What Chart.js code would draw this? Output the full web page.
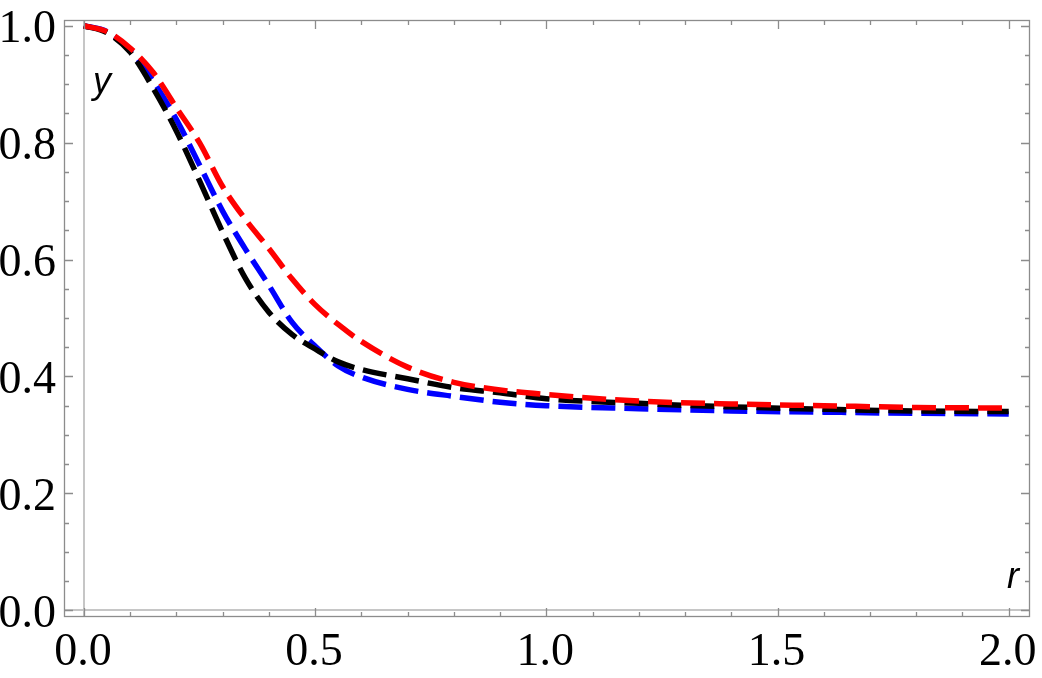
<!DOCTYPE html>
<html>
<head>
<meta charset="utf-8">
<script src="https://cdn.jsdelivr.net/npm/chart.js@4/dist/chart.umd.min.js"></script>
<style>
  html, body { margin: 0; padding: 0; background: #fff; overflow: hidden; }
  canvas { display: block; }
</style>
</head>
<body>
<canvas id="c" width="1042" height="678"></canvas>
<script>
// ---- data ----
const rValues = [0, 0.05, 0.1, 0.15, 0.2, 0.25, 0.3, 0.35, 0.4, 0.45, 0.5, 0.55, 0.6, 0.7, 0.8, 0.9, 1.0, 1.2, 1.4, 1.6, 1.8, 2.0];
const blackY  = [1.0, 0.988, 0.955, 0.893, 0.82, 0.735, 0.647, 0.567, 0.51, 0.472, 0.447, 0.425, 0.412, 0.396, 0.381, 0.372, 0.362, 0.354, 0.348, 0.344, 0.341, 0.340];
const blueY   = [1.0, 0.99, 0.958, 0.905, 0.84, 0.762, 0.683, 0.617, 0.556, 0.493, 0.452, 0.418, 0.399, 0.378, 0.366, 0.356, 0.350, 0.345, 0.341, 0.339, 0.337, 0.336];
const redY    = [1.0, 0.99, 0.962, 0.92, 0.86, 0.80, 0.725, 0.668, 0.619, 0.567, 0.523, 0.489, 0.46, 0.416, 0.39, 0.377, 0.369, 0.358, 0.353, 0.350, 0.347, 0.346];
const xTickLabels = [0, 0.5, 1.0, 1.5, 2.0];
const yTickLabels = [0, 0.2, 0.4, 0.6, 0.8, 1.0];
const xMinorStep = 0.1;
const yMinorStep = 0.05;
const xAxisLabel = 'r';
const yAxisLabel = 'y';

const toPts = ys => rValues.map((r, i) => ({ x: r, y: ys[i] }));

const FRAME = '#8c8c8c';
const TICK_FONT = '46px "Liberation Serif", "Times New Roman", serif';

const framePlugin = {
  id: 'mmaFrame',
  beforeDatasetsDraw(chart) {
    const { ctx, chartArea: a, scales: { x, y } } = chart;
    ctx.save();
    ctx.strokeStyle = '#c6c6c6';
    ctx.lineWidth = 2;
    ctx.beginPath();
    const x0 = Math.round(x.getPixelForValue(0));
    ctx.moveTo(x0, a.top); ctx.lineTo(x0, a.bottom);
    const y0 = Math.round(y.getPixelForValue(0));
    ctx.moveTo(a.left, y0); ctx.lineTo(a.right, y0);
    ctx.stroke();
    ctx.restore();
  },
  afterDatasetsDraw(chart) {
    const { ctx, chartArea: a, scales: { x, y } } = chart;
    ctx.save();
    ctx.strokeStyle = FRAME;
    ctx.lineWidth = 1.3;
    ctx.strokeRect(a.left + 0.5, a.top + 0.5, a.right - a.left - 1, a.bottom - a.top - 1);
    ctx.beginPath();
    const eps = 1e-9;
    for (let i = Math.ceil(x.min / xMinorStep); i * xMinorStep <= x.max + eps; i++) {
      const v = i * xMinorStep;
      const major = Math.abs(v * 2 - Math.round(v * 2)) < 1e-6;
      const len = major ? 9 : 5;
      const px = Math.round(x.getPixelForValue(v)) + 0.5;
      ctx.moveTo(px, a.bottom); ctx.lineTo(px, a.bottom - len);
      ctx.moveTo(px, a.top); ctx.lineTo(px, a.top + len);
    }
    for (let i = Math.ceil(y.min / yMinorStep); i * yMinorStep <= y.max + eps; i++) {
      const v = i * yMinorStep;
      const major = Math.abs(v * 5 - Math.round(v * 5)) < 1e-6;
      const len = major ? 9 : 5;
      const py = Math.round(y.getPixelForValue(v)) + 0.5;
      ctx.moveTo(a.left, py); ctx.lineTo(a.left + len, py);
      ctx.moveTo(a.right, py); ctx.lineTo(a.right - len, py);
    }
    ctx.stroke();

    // tick labels, positioned through the scales
    ctx.fillStyle = '#000';
    ctx.font = TICK_FONT;
    ctx.textBaseline = 'alphabetic';
    ctx.textAlign = 'center';
    xTickLabels.forEach(v => ctx.fillText(v.toFixed(1), x.getPixelForValue(v) - 1, a.bottom + 48));
    ctx.textAlign = 'right';
    yTickLabels.forEach(v => ctx.fillText(v.toFixed(1), a.left - 8, y.getPixelForValue(v) + 16.5));

    // axis labels inside the frame
    ctx.font = 'italic 36px "Liberation Sans", Arial, sans-serif';
    ctx.textAlign = 'center';
    ctx.fillText(yAxisLabel, 102, 93);
    ctx.fillText(xAxisLabel, 1013, 588);
    ctx.restore();
  }
};

new Chart(document.getElementById('c'), {
  type: 'line',
  data: {
    datasets: [
      { label: 'red', data: toPts(redY), borderColor: '#ff0000' },
      { label: 'black', data: toPts(blackY), borderColor: '#000000' },
      { label: 'blue', data: toPts(blueY), borderColor: '#0000ff' }
    ].map(d => Object.assign(d, {
      borderWidth: 5.5,
      borderDash: [24, 9],
      borderCapStyle: 'butt',
      pointRadius: 0,
      fill: false,
      cubicInterpolationMode: 'monotone'
    }))
  },
  options: {
    responsive: false,
    animation: false,
    events: [],
    layout: { autoPadding: false, padding: { top: 20, right: 12, left: 0, bottom: 0 } },
    plugins: { legend: { display: false }, tooltip: { enabled: false } },
    scales: {
      x: {
        type: 'linear', min: -0.043, max: 2.046,
        afterBuildTicks: s => { s.ticks = xTickLabels.map(v => ({ value: v })); },
        afterFit: s => { s.height = 61; },
        grid: { display: false, drawTicks: false }, border: { display: false },
        ticks: { display: false }
      },
      y: {
        type: 'linear', min: -0.0115, max: 1.0099,
        afterBuildTicks: s => { s.ticks = yTickLabels.map(v => ({ value: v })); },
        afterFit: s => { s.width = 64; },
        grid: { display: false, drawTicks: false }, border: { display: false },
        ticks: { display: false }
      }
    }
  },
  plugins: [framePlugin]
});
</script>
</body>
</html>
